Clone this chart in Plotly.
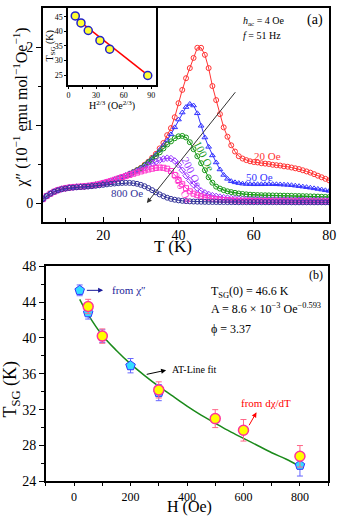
import plotly.graph_objects as go

# ---- panel (a): chi'' vs T for several dc fields ----
temps = list(range(4, 81))

chi_20 = [0.05, 0.09, 0.12, 0.145, 0.165, 0.18, 0.19, 0.198, 0.203, 0.207, 0.21, 0.214, 0.219, 0.225, 0.233, 0.243,
          0.255, 0.268, 0.282, 0.297, 0.313, 0.33, 0.35, 0.372, 0.396, 0.422,
          0.45, 0.49, 0.53, 0.58, 0.63, 0.70, 0.77, 0.87, 0.96, 1.10,
          1.28, 1.45, 1.60, 1.73, 1.86, 1.99, 1.99, 1.90, 1.73, 1.50,
          1.32, 1.14, 0.97, 0.85, 0.74, 0.66, 0.60, 0.57, 0.55, 0.535,
          0.525, 0.52, 0.51, 0.505, 0.50, 0.49, 0.485, 0.48, 0.47, 0.465,
          0.455, 0.445, 0.435, 0.42, 0.405, 0.39, 0.37, 0.35, 0.33, 0.31,
          0.29]
chi_50 = [0.05, 0.09, 0.12, 0.145, 0.165, 0.18, 0.19, 0.198, 0.203, 0.207, 0.21, 0.214, 0.219, 0.225, 0.233, 0.243,
          0.255, 0.268, 0.282, 0.297, 0.313, 0.33, 0.35, 0.372, 0.396, 0.422,
          0.45, 0.49, 0.53, 0.575, 0.62, 0.68, 0.74, 0.80, 0.88, 0.97,
          1.07, 1.16, 1.23, 1.27, 1.25, 1.15, 0.99, 0.84, 0.72, 0.61,
          0.52, 0.43, 0.36, 0.31, 0.28, 0.265, 0.255, 0.248, 0.244, 0.242,
          0.24, 0.24, 0.24, 0.241, 0.242, 0.241, 0.24, 0.238, 0.235, 0.232,
          0.228, 0.222, 0.216, 0.21, 0.203, 0.196, 0.188, 0.18, 0.172, 0.163,
          0.155]
chi_100 = [0.05, 0.09, 0.12, 0.145, 0.165, 0.18, 0.19, 0.198, 0.203, 0.207, 0.21, 0.214, 0.219, 0.225, 0.233, 0.243,
           0.255, 0.268, 0.282, 0.297, 0.313, 0.33, 0.35, 0.372, 0.395, 0.42,
           0.445, 0.48, 0.52, 0.56, 0.60, 0.65, 0.70, 0.75, 0.79, 0.83,
           0.855, 0.86, 0.84, 0.78, 0.69, 0.60, 0.51, 0.42, 0.33, 0.26,
           0.21, 0.185, 0.165, 0.15, 0.14, 0.13, 0.122, 0.116, 0.111, 0.107,
           0.104, 0.102, 0.1, 0.099, 0.098, 0.097, 0.096, 0.095, 0.094, 0.093,
           0.092, 0.09, 0.089, 0.088, 0.087, 0.085, 0.084, 0.082, 0.08, 0.078,
           0.076]
chi_200 = [0.05, 0.09, 0.12, 0.145, 0.165, 0.18, 0.19, 0.198, 0.203, 0.207, 0.21, 0.214, 0.219, 0.225, 0.233, 0.243,
           0.255, 0.268, 0.282, 0.297, 0.313, 0.33, 0.35, 0.372, 0.39, 0.41,
           0.435, 0.46, 0.485, 0.51, 0.53, 0.55, 0.565, 0.575, 0.57, 0.54,
           0.49, 0.42, 0.35, 0.29, 0.235, 0.19, 0.155, 0.13, 0.11, 0.095,
           0.085, 0.076, 0.069, 0.063, 0.058, 0.054, 0.051, 0.048, 0.046, 0.044,
           0.043, 0.042, 0.041, 0.04, 0.039, 0.038, 0.038, 0.037, 0.037, 0.036,
           0.036, 0.035, 0.035, 0.035, 0.034, 0.034, 0.034, 0.033, 0.033, 0.033,
           0.032]
chi_300 = [0.05, 0.09, 0.12, 0.145, 0.165, 0.18, 0.19, 0.198, 0.203, 0.207, 0.21, 0.214, 0.219, 0.225, 0.233, 0.243,
           0.255, 0.268, 0.282, 0.297, 0.313, 0.33, 0.345, 0.36, 0.375, 0.39,
           0.405, 0.418, 0.43, 0.44, 0.45, 0.455, 0.452, 0.44, 0.41, 0.36,
           0.295, 0.24, 0.19, 0.15, 0.12, 0.1, 0.085, 0.072, 0.062, 0.055,
           0.049, 0.044, 0.04, 0.037, 0.034, 0.032, 0.03, 0.029, 0.028, 0.027,
           0.026, 0.025, 0.025, 0.024, 0.024, 0.023, 0.023, 0.022, 0.022, 0.022,
           0.021, 0.021, 0.021, 0.02, 0.02, 0.02, 0.02, 0.019, 0.019, 0.019,
           0.019]
chi_800 = [0.05, 0.09, 0.12, 0.145, 0.163, 0.177, 0.186, 0.193, 0.198, 0.202, 0.205, 0.208, 0.212, 0.216, 0.221, 0.227,
           0.233, 0.239, 0.245, 0.25, 0.254, 0.257, 0.259, 0.258, 0.254, 0.246,
           0.233, 0.215, 0.192, 0.165, 0.137, 0.11, 0.087, 0.068, 0.053, 0.042,
           0.034, 0.028, 0.024, 0.021, 0.019, 0.017, 0.016, 0.015, 0.014, 0.013,
           0.013, 0.012, 0.012, 0.011, 0.011, 0.011, 0.01, 0.01, 0.01, 0.01,
           0.01, 0.01, 0.01, 0.01, 0.01, 0.01, 0.01, 0.01, 0.01, 0.01,
           0.009, 0.009, 0.009, 0.009, 0.009, 0.009, 0.009, 0.009, 0.009, 0.009,
           0.009]

# inset: T_SG vs H^(2/3)
inset_h23 = [7.4, 13.6, 21.5, 34.2, 44.8, 86.2]
inset_tsg = [45.3, 42.9, 40.3, 36.9, 33.9, 24.9]
inset_fit_h23 = [7.0, 88.0]
inset_fit_tsg = [44.7, 24.6]

# ---- panel (b): T_SG vs H ----
h_chi = [20, 50, 100, 200, 300, 800]
t_chi = [45.3, 42.8, 40.2, 36.9, 33.9, 25.8]
t_chi_err = [0.6, 0.7, 0.7, 0.8, 0.9, 1.2]
h_dchi = [50, 100, 300, 500, 600, 800]
t_dchi = [43.5, 40.2, 34.2, 31.0, 29.7, 26.8]
t_dchi_err = [0.8, 0.8, 0.9, 1.0, 1.2, 1.2]
h_fit = [20, 50, 100, 150, 200, 250, 300, 350, 400, 450, 500, 550, 600, 650, 700, 750, 800]
t_fit = [44.3, 42.6, 40.3, 38.6, 37.1, 35.8, 34.6, 33.5, 32.4, 31.4, 30.5, 29.6, 28.8, 28.0, 27.2, 26.5, 25.7]

FONT = "Liberation Serif"
W, H = 342, 527

series = [
    (chi_20, "#ff3333", "circle-open"),
    (chi_50, "#3333ff", "triangle-up-open"),
    (chi_100, "#1a9a1a", "circle-open-dot"),
    (chi_200, "#9933ff", "diamond-open"),
    (chi_300, "#ff33cc", "square-open"),
    (chi_800, "#333399", "circle-open"),
]

fig = go.Figure()
for vals, col, sym in series:
    fig.add_trace(go.Scatter(x=temps, y=vals, mode="lines+markers",
                             line=dict(color=col, width=1),
                             marker=dict(symbol=sym, size=5, color=col, line=dict(width=1, color=col)),
                             xaxis="x", yaxis="y"))

fig.add_trace(go.Scatter(x=inset_fit_h23, y=inset_fit_tsg, mode="lines",
                         line=dict(color="#ff0000", width=1.5), xaxis="x3", yaxis="y3"))
fig.add_trace(go.Scatter(x=inset_h23, y=inset_tsg, mode="markers",
                         marker=dict(symbol="circle", size=8, color="#ffff33", line=dict(width=1.5, color="#2222cc")),
                         xaxis="x3", yaxis="y3"))

fig.add_trace(go.Scatter(x=h_fit, y=t_fit, mode="lines", line=dict(color="#1a8a1a", width=1.5),
                         line_shape="spline", xaxis="x2", yaxis="y2"))
fig.add_trace(go.Scatter(x=h_chi, y=t_chi, mode="markers",
                         error_y=dict(type="data", array=t_chi_err, color="#6666ff", thickness=1, width=3),
                         marker=dict(symbol="pentagon", size=10, color="#33ddff", line=dict(width=1, color="#3333ff")),
                         xaxis="x2", yaxis="y2"))
fig.add_trace(go.Scatter(x=h_dchi, y=t_dchi, mode="markers",
                         error_y=dict(type="data", array=t_dchi_err, color="#ff6688", thickness=1, width=3),
                         marker=dict(symbol="circle", size=10, color="#ffff00", line=dict(width=1.5, color="#ff3399")),
                         xaxis="x2", yaxis="y2"))

axis_common = dict(showline=True, linecolor="black", linewidth=1.5, mirror=True, showgrid=False,
                   zeroline=False, tickcolor="black", ticklabeloverflow="allow",
                   tickfont=dict(family=FONT, size=14, color="black"))
small_ticks = dict(family=FONT, size=8, color="black")

fig.update_layout(
    width=W, height=H, margin=dict(l=0, r=0, t=0, b=0),
    paper_bgcolor="white", plot_bgcolor="white", showlegend=False,
    font=dict(family=FONT, color="black"),
    xaxis=dict(axis_common, domain=[0.1228, 0.9825], anchor="y", range=[4, 80],
               tickvals=[20, 40, 60, 80], ticks="inside", ticklen=5,
               minor=dict(tickvals=[10, 30, 50, 70], ticks="inside", ticklen=4, tickcolor="black")),
    yaxis=dict(axis_common, domain=[0.5806, 0.998], anchor="x", range=[-0.24, 2.5],
               tickvals=[0, 1, 2], ticks="outside", ticklen=5,
               minor=dict(tickvals=[0.5, 1.5], ticks="outside", ticklen=3, tickcolor="black")),
    xaxis3=dict(axis_common, domain=[0.1988, 0.462], anchor="y3", range=[-0.3, 95],
                tickvals=[0, 30, 60, 90], ticks="outside", ticklen=2, tickfont=small_ticks,
                minor=dict(tickvals=[15, 45, 75], ticks="outside", ticklen=2, tickcolor="black")),
    yaxis3=dict(axis_common, domain=[0.848, 0.998], anchor="x3", range=[21.7, 48],
                tickvals=[25, 30, 35, 40, 45], ticks="outside", ticklen=2, tickfont=small_ticks),
    xaxis2=dict(axis_common, domain=[0.1316, 0.9795], anchor="y2", range=[-100, 900],
                tickvals=[0, 200, 400, 600, 800], ticks="outside", ticklen=3,
                tickfont=dict(family=FONT, size=12, color="black"),
                minor=dict(tickvals=[-100, 100, 300, 500, 700, 900], ticks="outside", ticklen=3, tickcolor="black")),
    yaxis2=dict(axis_common, domain=[0.0734, 0.4939], anchor="x2", range=[24, 48],
                tickvals=[24, 28, 32, 36, 40, 44, 48], ticks="outside", ticklen=5,
                minor=dict(tickvals=[26, 30, 34, 38, 42, 46], ticks="outside", ticklen=3, tickcolor="black")),
)


def px_note(text, x, y, size, angle=0, color="black"):
    # place text by pixel position of its centre
    return dict(x=x / W, y=1 - y / H, xref="paper", yref="paper", text=text, showarrow=False,
                textangle=angle, font=dict(size=size, color=color), xanchor="center", yanchor="middle")


ann = []
# axis titles
ann.append(px_note("T (K)", 176, 247, 17))
ann.append(px_note("χ″ (10<sup>−1</sup> emu mol<sup>−1</sup>Oe<sup>−1</sup>)", 19, 104, 16, angle=-90))
ann.append(px_note("T<sub>SG</sub> (K)", 50, 40, 10, angle=-90))
ann.append(px_note("H<sup>2/3</sup> (Oe<sup>2/3</sup>)", 113, 101, 10))
ann.append(px_note("H (Oe)", 193, 515, 16))
ann.append(px_note("T<sub>SG</sub> (K)", 10, 393, 18, angle=-90))

# panel (a) texts
ann.append(px_note("(a)", 321, 13, 14))
ann.append(dict(x=245 / W, y=1 - 15 / H, xref="paper", yref="paper", text="<i>h</i><sub>ac</sub> = 4 Oe",
                showarrow=False, xanchor="left", yanchor="middle", font=dict(size=10)))
ann.append(dict(x=245 / W, y=1 - 29 / H, xref="paper", yref="paper", text="<i>f</i> = 51 Hz",
                showarrow=False, xanchor="left", yanchor="middle", font=dict(size=10)))
labels = [
    ("20 Oe", 63.7, 0.60, "#ff3333", 0),
    ("50 Oe", 61.5, 0.33, "#3333ff", 0),
    ("100 Oe", 46.8, 0.60, "#1a9a1a", 63),
    ("200 Oe", 43.6, 0.40, "#9933ff", 63),
    ("300 Oe", 41.0, 0.19, "#ff33cc", 63),
    ("800 Oe", 26.4, 0.13, "#333399", 0),
]
for txt, xx, yy, col, ang in labels:
    ann.append(dict(x=xx, y=yy, xref="x", yref="y", text=txt, showarrow=False, textangle=ang,
                    font=dict(size=11, color=col)))
ann.append(dict(x=31.6, y=0.0, ax=55.4, ay=1.44, xref="x", yref="y", axref="x", ayref="y", text="",
                showarrow=True, arrowhead=2, arrowsize=1, arrowwidth=1, arrowcolor="#333333"))

# panel (b) texts
ann.append(px_note("(b)", 322, 276, 12))
ann.append(dict(x=478, y=45.1, xref="x2", yref="y2", text="T<sub>SG</sub>(0) = 46.6 K", showarrow=False,
                xanchor="left", font=dict(size=12)))
ann.append(dict(x=478, y=43.3, xref="x2", yref="y2",
                text="A = 8.6 × 10<sup>−3</sup> Oe<sup>−0.593</sup>", showarrow=False,
                xanchor="left", font=dict(size=12)))
ann.append(dict(x=478, y=41.0, xref="x2", yref="y2", text="ϕ = 3.37", showarrow=False,
                xanchor="left", font=dict(size=12)))
ann.append(dict(x=103, y=45.3, ax=40, ay=45.3, xref="x2", yref="y2", axref="x2", ayref="y2", text="",
                showarrow=True, arrowhead=2, arrowsize=1, arrowwidth=1, arrowcolor="#1a1a99"))
ann.append(dict(x=126, y=45.3, xref="x2", yref="y2", text="from χ″", showarrow=False,
                xanchor="left", font=dict(size=11, color="#1a1a99")))
ann.append(dict(x=326, y=36.4, ax=252, ay=35.9, xref="x2", yref="y2", axref="x2", ayref="y2", text="",
                showarrow=True, arrowhead=2, arrowsize=1, arrowwidth=1, arrowcolor="black"))
ann.append(dict(x=340, y=36.5, xref="x2", yref="y2", text="AT-Line fit", showarrow=False,
                xanchor="left", font=dict(size=10)))
ann.append(dict(x=646, y=31.7, ax=617, ay=30.1, xref="x2", yref="y2", axref="x2", ayref="y2", text="",
                showarrow=True, arrowhead=2, arrowsize=1, arrowwidth=1, arrowcolor="#ff0000"))
ann.append(dict(x=583, y=32.7, xref="x2", yref="y2", text="from dχ/dT", showarrow=False,
                xanchor="left", font=dict(size=11, color="#ff0000")))

fig.update_layout(annotations=ann)
fig.write_html("out.html", config={"displayModeBar": False},
               post_script="document.body.style.margin='0';document.body.style.overflow='hidden';")
